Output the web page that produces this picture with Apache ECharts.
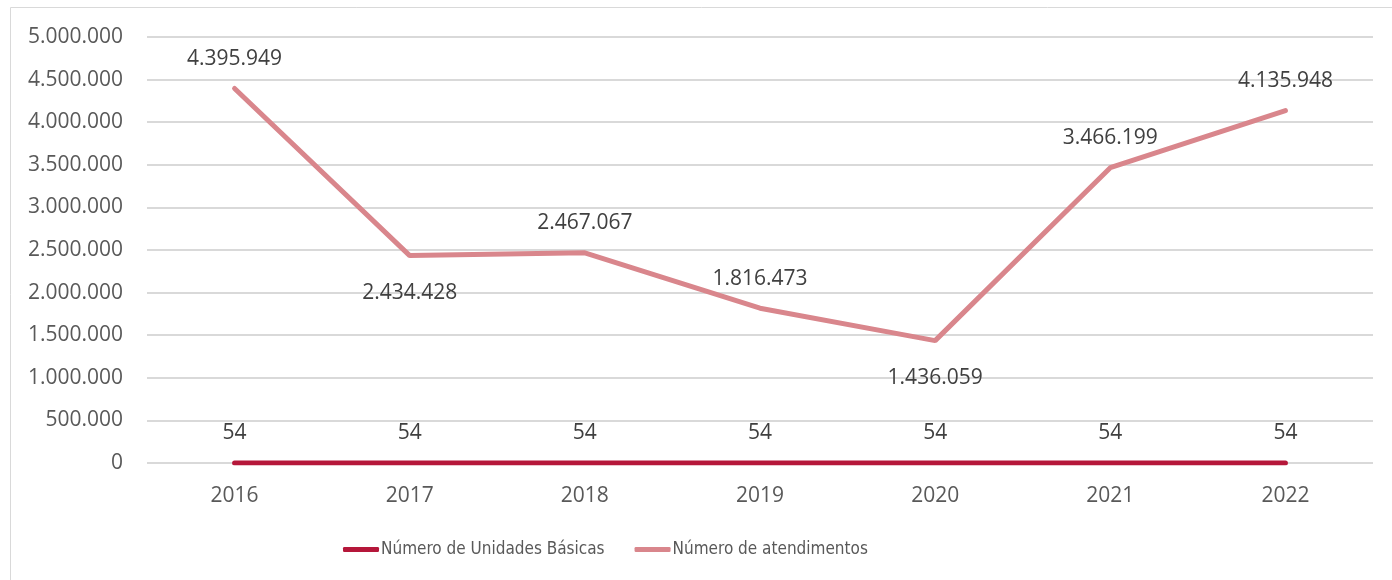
<!DOCTYPE html>
<html>
<head>
<meta charset="utf-8">
<script src="https://cdn.jsdelivr.net/npm/echarts@6/dist/echarts.min.js"></script>
<style>
  html, body { margin: 0; padding: 0; background: #fff; }
  #chart { width: 1392px; height: 580px; }
</style>
</head>
<body>
<div id="chart"></div>
<script>
var anos = ['2016', '2017', '2018', '2019', '2020', '2021', '2022'];
var unidades = [54, 54, 54, 54, 54, 54, 54];
var atendimentos = [4395949, 2434428, 2467067, 1816473, 1436059, 3466199, 4135948];
// where each atendimentos label sits relative to its point
var labelPos = ['top', 'bottom', 'top', 'top', 'bottom', 'top', 'top'];

function fmt(v) {
  return String(v).replace(/\B(?=(\d{3})+(?!\d))/g, '.');
}

var chart = echarts.init(document.getElementById('chart'));

var option = {
  animation: false,
  textStyle: { fontFamily: 'Open Sans' },
  graphic: [{
    type: 'rect',
    shape: { x: 10.5, y: 7.5, width: 1400, height: 600 },
    style: { fill: 'none', stroke: '#d9d9d9', lineWidth: 1 }
  }],
  grid: {
    left: 147,
    right: 19,
    top: 37,
    height: 426,
    containLabel: false
  },
  legend: {
    bottom: 17,
    left: 338,
    itemWidth: 36,
    itemHeight: 5,
    itemGap: 30,
    icon: 'roundRect',
    textStyle: { fontFamily: 'DejaVu Sans Condensed', fontSize: 17, color: '#595959', padding: [0, 0, 0, -3] },
    data: ['Número de Unidades Básicas', 'Número de atendimentos']
  },
  xAxis: {
    type: 'category',
    data: anos,
    boundaryGap: true,
    axisLine: { show: false },
    axisTick: { show: false },
    axisLabel: { color: '#595959', fontSize: 21, margin: 23 }
  },
  yAxis: {
    type: 'value',
    min: 0,
    max: 5000000,
    interval: 500000,
    axisLine: { show: false },
    axisTick: { show: false },
    splitLine: { lineStyle: { color: '#d9d9d9', width: 2 } },
    axisLabel: { color: '#595959', fontSize: 21, margin: 24, formatter: fmt }
  },
  series: [{
    name: 'Número de Unidades Básicas',
    type: 'line',
    data: unidades,
    symbol: 'circle',
    symbolSize: 0,
    showSymbol: true,
    z: 3,
    lineStyle: { color: '#b5173a', width: 5, cap: 'round' },
    itemStyle: { color: '#b5173a' },
    label: { show: true, position: 'top', distance: 19, color: '#404040', fontSize: 21, formatter: function (p) { return fmt(p.value); } }
  }, {
    name: 'Número de atendimentos',
    type: 'line',
    data: atendimentos.map(function (v, i) {
      return { value: v, label: { position: labelPos[i], distance: labelPos[i] === 'top' ? 19 : 27 } };
    }),
    symbol: 'circle',
    symbolSize: 0,
    showSymbol: true,
    z: 2,
    lineStyle: { color: '#d9868c', width: 5, cap: 'round' },
    itemStyle: { color: '#d9868c' },
    label: { show: true, color: '#404040', fontSize: 21, formatter: function (p) { return fmt(p.value); } }
  }]
};

chart.setOption(option);
</script>
</body>
</html>
